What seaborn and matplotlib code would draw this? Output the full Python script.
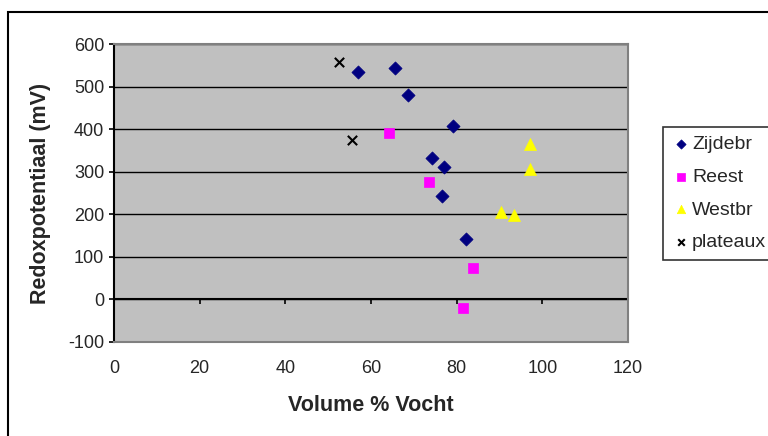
import pandas as pd
import matplotlib.pyplot as plt
import matplotlib.patches as patches
import seaborn as sns

sns.set_style('white')
plt.rcParams['font.family'] = ['Liberation Sans', 'DejaVu Sans']
plt.rcParams['axes.unicode_minus'] = False

# --- data
zijdebr_x = [56.9, 65.7, 68.6, 79.2, 74.2, 77.0, 76.5, 82.1]
zijdebr_y = [534, 543, 480, 407, 332, 312, 242, 142]
reest_x = [64.1, 73.5, 83.8, 81.4]
reest_y = [390, 277, 74, -20]
westbr_x = [97.1, 97.1, 90.3, 93.4]
westbr_y = [365, 306, 206, 198]
plateaux_x = [52.5, 55.5]
plateaux_y = [557, 374]

series = ['Zijdebr', 'Reest', 'Westbr', 'plateaux']
y_ticks = [-100, 0, 100, 200, 300, 400, 500, 600]
x_ticks = [0, 20, 40, 60, 80, 100, 120]

df = pd.concat([
    pd.DataFrame({'x': zijdebr_x, 'y': zijdebr_y, 'serie': 'Zijdebr'}),
    pd.DataFrame({'x': reest_x, 'y': reest_y, 'serie': 'Reest'}),
    pd.DataFrame({'x': westbr_x, 'y': westbr_y, 'serie': 'Westbr'}),
    pd.DataFrame({'x': plateaux_x, 'y': plateaux_y, 'serie': 'plateaux'}),
], ignore_index=True)

colors = {'Zijdebr': '#000080', 'Reest': '#FF00FF', 'Westbr': '#FFFF00', 'plateaux': 'black'}
markers = {'Zijdebr': 'D', 'Reest': 's', 'Westbr': '^', 'plateaux': 'x'}
sizes = {'Zijdebr': 45, 'Reest': 55, 'Westbr': 75, 'plateaux': 45}

fig = plt.figure(figsize=(7.68, 4.36), dpi=100)
ax = fig.add_axes([114/768, 1-342/436, (628-114)/768, (342-44)/436])
ax.set_facecolor('#C0C0C0')

for s in series:
    sub = df[df['serie'] == s]
    sns.scatterplot(data=sub, x='x', y='y', color=colors[s], marker=markers[s],
                    s=sizes[s], edgecolor=colors[s] if markers[s] != 'x' else None,
                    linewidth=1.5 if markers[s] == 'x' else 0.5,
                    label=s, ax=ax, zorder=3)

ax.set_xlim(0, 120)
ax.set_ylim(-100, 600)
ax.set_xticks(x_ticks)
ax.set_yticks(y_ticks)
ax.yaxis.grid(True, color='black', lw=1)
ax.xaxis.grid(False)
ax.axhline(0, color='black', lw=1.5, zorder=2)

for side in ['top', 'right', 'bottom']:
    ax.spines[side].set_color('#808080')
    ax.spines[side].set_linewidth(1.5)
ax.spines['left'].set_color('black')
ax.spines['left'].set_linewidth(1.5)

ax.tick_params(axis='y', direction='out', length=3.6, width=1.2, color='black',
               labelsize=13, pad=3.5, left=True)
ax.tick_params(axis='x', length=0, labelsize=13, pad=13)

# --- tick marks on the zero line (excel style)
sec = ax.secondary_xaxis(100/700)
sec.set_xticks(x_ticks)
sec.tick_params(direction='out', length=3.6, width=1.2, color='black', labelbottom=False)
sec.spines['bottom'].set_visible(False)

ax.set_xlabel('Volume % Vocht', fontsize=15.5, fontweight='bold', labelpad=13)
ax.set_ylabel('Redoxpotentiaal (mV)', fontsize=15.5, fontweight='bold', labelpad=12)

leg = ax.legend(loc='upper left', bbox_to_anchor=(663/768, 1-127/436),
                bbox_transform=fig.transFigure, fontsize=14, frameon=True,
                fancybox=False, edgecolor='black', labelspacing=0.77,
                handletextpad=0.05, handlelength=1.0, borderpad=0.45,
                borderaxespad=0, markerscale=0.7)
leg.get_frame().set_linewidth(1.2)

border = patches.Rectangle((8/768, -0.1), 1.0, 1-12/436+0.1, transform=fig.transFigure,
                           fill=False, ec='black', lw=1.5)
fig.patches.append(border)

plt.savefig('out.png', dpi=100)
plt.close(fig)
